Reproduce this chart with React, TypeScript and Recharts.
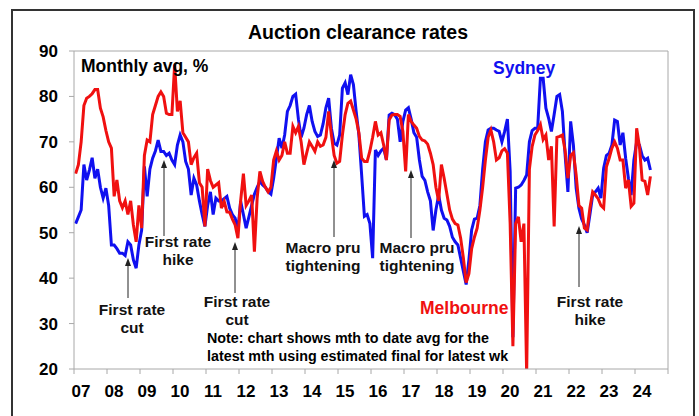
import React from 'react';
import { LineChart, Line, XAxis, YAxis, ReferenceLine } from 'recharts';

// monthly averages, Jan 2007 to Jun 2024
const sydney = [
  52, 53.5, 55, 65, 61.6, 63.8, 66.5, 62, 64, 60, 57.6, 59.8,
  56, 47.3, 47.3, 46.5, 45.5, 45.5, 45, 48, 47.3, 44, 42.2, 47.3,
  50.6, 64.6, 58, 64, 66.4, 68, 70.4, 67.9, 67.9, 67, 67.5, 66,
  65, 69.3, 71.5, 70, 65.7, 64, 58.3, 62, 60.5, 57, 54, 51.4,
  56, 59, 54, 57.6, 57, 57, 57.5, 58, 55.4, 54, 53.2, 50.6,
  56.9, 54, 51, 53.5, 56, 58.5, 60, 61.3, 60.5, 60, 59, 58.5,
  62, 66.4, 70.8, 68.6, 71.5, 76.7, 78, 80, 80.5, 75, 71, 73,
  76, 78, 74.5, 72.3, 71.2, 71.5, 74, 77.5, 79.6, 73, 69.7, 69.3,
  71.5, 81.8, 83, 80.4, 84.8, 82.6, 76.7, 71.5, 62.7, 53.6, 54, 52,
  44.4, 68.2, 67, 68, 68.6, 66, 75.9, 76.3, 76, 75, 70, 74.5,
  77, 77.5, 75, 72, 71, 66, 62.4, 61.5, 59, 57, 50.5, 55,
  58.3, 55, 53.2, 52.8, 51.4, 49, 48, 47.3, 44.4, 41.5, 38.6, 44,
  50.6, 53, 53.2, 56, 64, 70, 72.6, 73, 73, 72.6, 72.3, 70,
  72.3, 75, 63.5, 27, 59.8, 60, 60.5, 61.5, 62.7, 70, 72.5, 73,
  73, 84, 84, 77.4, 75.2, 72.3, 76, 80, 80.4, 76.7, 67, 59,
  74.5, 69.3, 59.8, 55.4, 53, 51.7, 50, 54, 58.3, 59, 59.8, 57.6,
  64.2, 67, 67.5, 69.3, 74.8, 74.5, 69.3, 72, 66.4, 62, 58.3, 66,
  70, 69.3, 67, 66, 66.4, 63.8,
];

const melbourne = [
  63, 65, 70, 78, 79.6, 80, 80.6, 81.5, 81.5, 77.4, 75.5, 72.5,
  70, 68.6, 58, 61.6, 57, 55.5, 57, 54, 57, 51.7, 48, 56,
  51, 67, 70.4, 70, 76, 78, 80, 81, 80, 76.3, 76, 76,
  87, 76.7, 79, 72, 71, 70, 65, 66.5, 67.5, 61, 60, 51.4,
  64, 61.5, 60, 60.5, 61, 55.4, 56.9, 54.6, 54.5, 53, 51.7, 48.8,
  57, 63, 56, 57, 58.3, 45.8, 57.6, 63.5, 61.3, 60, 59, 60,
  66, 68, 66, 67, 70, 67.5, 67.5, 73.4, 72, 73.4, 70, 65,
  67.5, 70, 69, 67.9, 70, 69, 69.3, 71, 76.7, 71.5, 67, 65.3,
  65.7, 71.5, 76, 78.5, 79, 77, 75, 72, 66.4, 65.7, 65.7, 68,
  71, 74.5, 71.5, 72, 69.3, 66, 74.8, 75.9, 76, 76, 75.6, 72.3,
  63.5, 76, 74.5, 73.7, 73, 71.2, 70.4, 70.2, 69.5, 67.5, 65, 60,
  57, 65, 62, 58.5, 55, 53, 52, 51.7, 48.8, 44.4, 39, 41,
  46.5, 49, 51, 55, 60, 66, 71, 72.6, 70, 66, 66.5, 68,
  68.5, 67.5, 52, 25, 52, 53.5, 48, 52, 19, 64, 69, 71.5,
  72.5, 73.8, 70.5, 71.5, 66, 69, 51.4, 71, 71.2, 71.5, 68, 62,
  67, 67.6, 62.7, 56, 55.4, 51, 50.6, 55.4, 59, 58.3, 57.5, 56,
  55.4, 64.5, 66.4, 68.6, 70, 68.6, 66, 66, 59.8, 61.6, 55.8, 56.5,
  73, 69, 61.6, 61.3, 58.3, 62.4,
];

const yearLabels = ['07', '08', '09', '10', '11', '12', '13', '14', '15', '16', '17', '18', '19', '20', '21', '22', '23', '24'];
const yTicks = [20, 30, 40, 50, 60, 70, 80, 90];

const FONT = '"Liberation Sans", Arial, sans-serif';

const data = sydney.map((v, i) => ({
  t: 2007 + (i + 0.6) / 12,
  sydney: v,
  melbourne: melbourne[i],
}));

const xTicks = [...yearLabels.map((_, i) => 2007 + i), 2007 + yearLabels.length];

const YearTick = (props: any) => {
  const { x, y, payload } = props;
  const idx = Math.round(payload.value) - 2007;
  if (idx < 0 || idx >= yearLabels.length) return null;
  return (
    <text x={x + 7} y={y} dy={23} textAnchor="middle" fontFamily={FONT} fontWeight="bold" fontSize={17} fill="#000">
      {yearLabels[idx]}
    </text>
  );
};

const Arrow = ({ x, head, tail }: { x: number; head: number; tail: number }) => (
  <g>
    <line x1={x} y1={tail} x2={x} y2={head + 6} stroke="#222" strokeWidth={1} />
    <polygon points={`${x},${head} ${x - 3},${head + 8} ${x + 3},${head + 8}`} fill="#222" />
  </g>
);

const Note = ({ x, y, lines, size = 15.5 }: { x: number; y: number; lines: string[]; size?: number }) => (
  <text x={x} y={y} textAnchor="middle" fontFamily={FONT} fontWeight="bold" fontSize={size} fill="#111">
    {lines.map((l, i) => (
      <tspan key={i} x={x} dy={i === 0 ? 0 : 18}>{l}</tspan>
    ))}
  </text>
);

export default function App() {
  return (
    <div style={{ position: 'absolute', left: 0, top: 0, width: 699, height: 416, background: '#fff', overflow: 'hidden' }}>
      <div style={{ position: 'absolute', left: 11, top: 9, width: 680, height: 430, border: '2px solid #333' }} />
      <LineChart width={699} height={416} data={data} margin={{ top: 51, right: 31, left: 14, bottom: 17 }}>
        <XAxis
          dataKey="t"
          type="number"
          domain={[2007, 2025]}
          ticks={xTicks}
          tick={<YearTick />}
          tickSize={5}
          tickMargin={0}
          height={30}
          stroke="#a8a8a8"
          interval={0}
        />
        <YAxis
          domain={[20, 90]}
          ticks={yTicks}
          allowDataOverflow
          width={60}
          tickSize={5}
          tickMargin={11}
          stroke="#a8a8a8"
          tick={{ fill: '#000', fontSize: 17, fontWeight: 'bold', fontFamily: FONT }}
          interval={0}
        />
        <ReferenceLine y={90} stroke="#a8a8a8" />
        <ReferenceLine x={2025} stroke="#a8a8a8" />
        <Line type="linear" dataKey="sydney" stroke="#1010f0" strokeWidth={3} dot={false} isAnimationActive={false} />
        <Line type="linear" dataKey="melbourne" stroke="#f01010" strokeWidth={3} dot={false} isAnimationActive={false} />
      </LineChart>
      <svg width={699} height={416} style={{ position: 'absolute', left: 0, top: 0, pointerEvents: 'none' }}>
        <text x={358} y={39} textAnchor="middle" fontFamily={FONT} fontWeight="bold" fontSize={19.5} fill="#000">
          Auction clearance rates
        </text>
        <text x={81} y={72} fontFamily={FONT} fontWeight="bold" fontSize={17.5} fill="#000">Monthly avg, %</text>
        <text x={493} y={74} fontFamily={FONT} fontWeight="bold" fontSize={17.5} fill="#1010f0">Sydney</text>
        <text x={420} y={314} fontFamily={FONT} fontWeight="bold" fontSize={17.5} fill="#f01010">Melbourne</text>

        <Arrow x={128} head={258} tail={298} />
        <Note x={132} y={315} lines={['First rate', 'cut']} />
        <Arrow x={164} head={160} tail={236} />
        <Note x={178} y={247} lines={['First rate', 'hike']} />
        <Arrow x={235} head={242} tail={293} />
        <Note x={237} y={307} lines={['First rate', 'cut']} />
        <Arrow x={334} head={160} tail={237} />
        <Note x={323} y={253} lines={['Macro pru', 'tightening']} />
        <Arrow x={411} head={170} tail={238} />
        <Note x={417} y={253} lines={['Macro pru', 'tightening']} />
        <Arrow x={579} head={226} tail={287} />
        <Note x={590} y={307} lines={['First rate', 'hike']} />

        <text x={207} y={343} fontFamily={FONT} fontWeight="bold" fontSize={14.3} fill="#000">
          <tspan x={207}>Note: chart shows mth to date avg for the</tspan>
          <tspan x={207} dy={18}>latest mth using estimated final for latest wk</tspan>
        </text>
      </svg>
    </div>
  );
}
